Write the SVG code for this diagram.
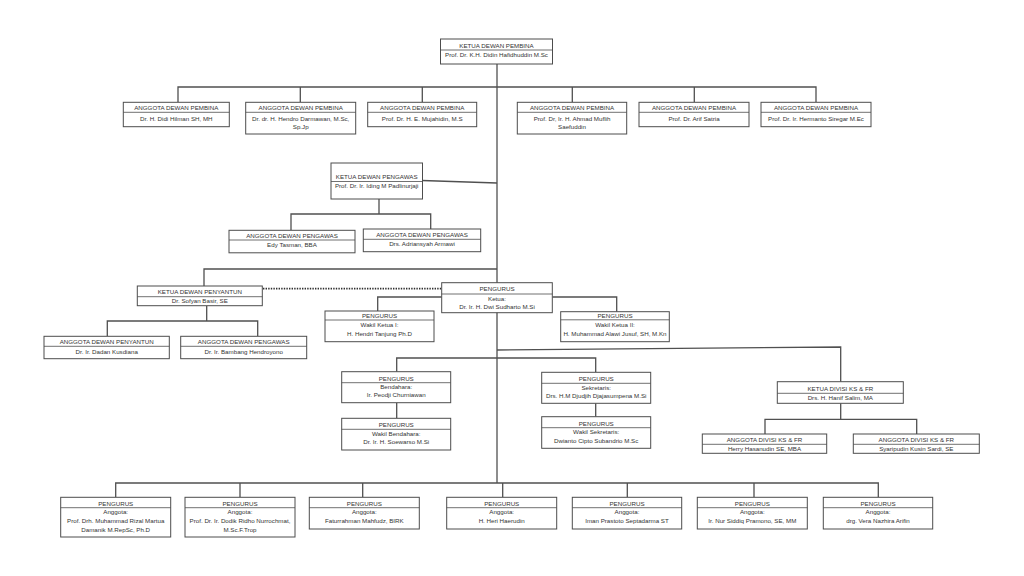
<svg xmlns="http://www.w3.org/2000/svg" width="1024" height="576" viewBox="0 0 1024 576">
<style>
.bg{fill:#ffffff}
.box{fill:#ffffff;stroke:#4d4d4d;stroke-width:1}
.dv{stroke:#4d4d4d;stroke-width:0.8}
.ln{fill:none;stroke:#505050;stroke-width:1.3}
.dot{fill:none;stroke:#303030;stroke-width:1.8;stroke-dasharray:1.4 1.2}
text{font-family:"Liberation Sans",Arial,sans-serif;font-size:6.2px;fill:#333333;text-anchor:middle}
</style>
<rect class="bg" x="0" y="0" width="1024" height="576"/>
<g id="connectors">
<path class="ln" d="M497,64 V483"/>
<path class="ln" d="M178,102 V87 H816 V102 M300.3,87 V102 M422.3,87 V102 M572.3,87 V102 M694.3,87 V102"/>
<path class="ln" d="M422,180.5 L497,183"/>
<path class="ln" d="M379,199 V214 M291,230 V214 H430.7 V229"/>
<path class="ln" d="M497,269 H204 V286"/>
<path class="dot" d="M263,288.7 H441"/>
<path class="ln" d="M206.7,306 V321 M107.3,336 V321 H257.7 V336"/>
<path class="ln" d="M441.7,297 H377.7 V311 M552.3,297 H616.7 V311.7"/>
<path class="ln" d="M497,350 L840.7,347 V381.7"/>
<path class="ln" d="M396.7,371.7 V358 H595.7 V372.3"/>
<path class="ln" d="M396.7,402.7 V418.3 M595.7,403.3 V416.7"/>
<path class="ln" d="M840.7,403.3 V419.3 M765,434 V419.3 H916.7 V434"/>
<path class="ln" d="M115.7,497.3 V483 H878.3 V497.3 M240,483 V497.3 M362.7,483 V497.3 M502.7,483 V497.3 M627.3,483 V497.3 M754,483 V497.3"/>
</g>

<g id="ketua-pembina">
<rect class="box" x="440.5" y="39" width="112" height="25"/>
<line class="dv" x1="440.5" y1="50" x2="552.5" y2="50"/>
<text x="496.5" y="47.8">KETUA DEWAN PEMBINA</text>
<text x="496.5" y="57">Prof. Dr. K.H. Didin Hafidhuddin M.Sc</text>
</g>

<g id="pembina-1">
<rect class="box" x="123.3" y="102.3" width="106" height="24.4"/>
<line class="dv" x1="123.3" y1="112.3" x2="229.3" y2="112.3"/>
<text x="176.3" y="110.2">ANGGOTA DEWAN PEMBINA</text>
<text x="176.3" y="120.5">Dr. H. Didi Hilman SH, MH</text>
</g>
<g id="pembina-2">
<rect class="box" x="245.7" y="102.3" width="110" height="31.7"/>
<line class="dv" x1="245.7" y1="112.3" x2="355.7" y2="112.3"/>
<text x="300.7" y="110.2">ANGGOTA DEWAN PEMBINA</text>
<text x="300.7" y="120.5">Dr. dr. H. Hendro Darmawan, M.Sc,</text>
<text x="300.7" y="129">Sp.Jp</text>
</g>
<g id="pembina-3">
<rect class="box" x="367.7" y="102.3" width="109" height="24.4"/>
<line class="dv" x1="367.7" y1="112.3" x2="476.7" y2="112.3"/>
<text x="422.2" y="110.2">ANGGOTA DEWAN PEMBINA</text>
<text x="422.2" y="120.5">Prof. Dr. H. E. Mujahidin, M.S</text>
</g>
<g id="pembina-4">
<rect class="box" x="517.3" y="102.3" width="109.4" height="31.7"/>
<line class="dv" x1="517.3" y1="112.3" x2="626.7" y2="112.3"/>
<text x="572" y="110.2">ANGGOTA DEWAN PEMBINA</text>
<text x="572" y="120.5">Prof. Dr, Ir. H. Ahmad Muflih</text>
<text x="572" y="129">Saefuddin</text>
</g>
<g id="pembina-5">
<rect class="box" x="639" y="102.3" width="110" height="24.4"/>
<line class="dv" x1="639" y1="112.3" x2="749" y2="112.3"/>
<text x="694" y="110.2">ANGGOTA DEWAN PEMBINA</text>
<text x="694" y="120.5">Prof. Dr. Arif Satria</text>
</g>
<g id="pembina-6">
<rect class="box" x="761" y="102.3" width="110" height="24.4"/>
<line class="dv" x1="761" y1="112.3" x2="871" y2="112.3"/>
<text x="816" y="110.2">ANGGOTA DEWAN PEMBINA</text>
<text x="816" y="120.5">Prof. Dr. Ir. Hermanto Siregar M.Ec</text>
</g>

<g id="ketua-pengawas">
<rect class="box" x="331" y="163" width="91.5" height="36"/>
<line class="dv" x1="331" y1="181.5" x2="422.5" y2="181.5"/>
<text x="376.7" y="179">KETUA DEWAN PENGAWAS</text>
<text x="376.7" y="188">Prof. Dr. Ir. Iding M Padlinurjaji</text>
</g>
<g id="pengawas-1">
<rect class="box" x="229" y="230.3" width="126" height="22.5"/>
<line class="dv" x1="229" y1="240" x2="355" y2="240"/>
<text x="292" y="238">ANGGOTA DEWAN PENGAWAS</text>
<text x="292" y="247.3">Edy Tasman, BBA</text>
</g>
<g id="pengawas-2">
<rect class="box" x="363.3" y="229" width="117.4" height="22.7"/>
<line class="dv" x1="363.3" y1="239.3" x2="480.7" y2="239.3"/>
<text x="422" y="237">ANGGOTA DEWAN PENGAWAS</text>
<text x="422" y="246.3">Drs. Adriansyah Armawi</text>
</g>

<g id="ketua-penyantun">
<rect class="box" x="137.3" y="286" width="125" height="19.7"/>
<line class="dv" x1="137.3" y1="296.7" x2="262.3" y2="296.7"/>
<text x="199.8" y="294">KETUA DEWAN PENYANTUN</text>
<text x="199.8" y="302.6">Dr. Sofyan Basir, SE</text>
</g>
<g id="penyantun-1">
<rect class="box" x="44" y="336.3" width="125.3" height="22.4"/>
<line class="dv" x1="44" y1="346.3" x2="169.3" y2="346.3"/>
<text x="106.7" y="344.2">ANGGOTA DEWAN PENYANTUN</text>
<text x="106.7" y="353.8">Dr. Ir. Dadan Kusdiana</text>
</g>
<g id="penyantun-2">
<rect class="box" x="180.7" y="336.3" width="126" height="22.4"/>
<line class="dv" x1="180.7" y1="346.3" x2="306.7" y2="346.3"/>
<text x="243.7" y="344.2">ANGGOTA DEWAN PENGAWAS</text>
<text x="243.7" y="353.8">Dr. Ir. Bambang Hendroyono</text>
</g>

<g id="pengurus-ketua">
<rect class="box" x="441.7" y="282.7" width="110.6" height="30"/>
<line class="dv" x1="441.7" y1="294" x2="552.3" y2="294"/>
<text x="497" y="291.3">PENGURUS</text>
<text x="497" y="301">Ketua:</text>
<text x="497" y="309">Dr. Ir. H. Dwi Sudharto M.Si</text>
</g>
<g id="wakil-ketua-1">
<rect class="box" x="325" y="311" width="109" height="30.7"/>
<line class="dv" x1="325" y1="320" x2="434" y2="320"/>
<text x="379.5" y="318">PENGURUS</text>
<text x="379.5" y="327">Wakil Ketua I:</text>
<text x="379.5" y="335.5">H. Hendri Tanjung Ph.D</text>
</g>
<g id="wakil-ketua-2">
<rect class="box" x="560.7" y="311.7" width="108.6" height="30"/>
<line class="dv" x1="560.7" y1="319.8" x2="669.3" y2="319.8"/>
<text x="615" y="318">PENGURUS</text>
<text x="615" y="327">Wakil Ketua II:</text>
<text x="615" y="335.5">H. Muhammad Alawi Jusuf, SH, M.Kn</text>
</g>

<g id="bendahara">
<rect class="box" x="341.7" y="371.7" width="109" height="31"/>
<line class="dv" x1="341.7" y1="382.7" x2="450.7" y2="382.7"/>
<text x="396.2" y="380.5">PENGURUS</text>
<text x="396.2" y="389">Bendahara:</text>
<text x="396.2" y="396.8">Ir. Peodji Churniawan</text>
</g>
<g id="wakil-bendahara">
<rect class="box" x="341.7" y="418.3" width="109" height="31.7"/>
<line class="dv" x1="341.7" y1="429.3" x2="450.7" y2="429.3"/>
<text x="396.2" y="427">PENGURUS</text>
<text x="396.2" y="435.5">Wakil Bendahara:</text>
<text x="396.2" y="444">Dr. Ir. H. Soewarso M.Si</text>
</g>
<g id="sekretaris">
<rect class="box" x="541.7" y="372.3" width="109" height="31"/>
<line class="dv" x1="541.7" y1="383.3" x2="650.7" y2="383.3"/>
<text x="596.2" y="381">PENGURUS</text>
<text x="596.2" y="389.5">Sekretaris:</text>
<text x="596.2" y="397.5">Drs. H.M Djudjih Djajasumpena M.Si</text>
</g>
<g id="wakil-sekretaris">
<rect class="box" x="541.7" y="416.7" width="109" height="31.6"/>
<line class="dv" x1="541.7" y1="427.7" x2="650.7" y2="427.7"/>
<text x="596.2" y="425.5">PENGURUS</text>
<text x="596.2" y="434">Wakil Sekretaris:</text>
<text x="596.2" y="442.5">Dwianto Cipto Subandrio M.Sc</text>
</g>

<g id="ketua-divisi">
<rect class="box" x="777.3" y="381.7" width="126" height="21.6"/>
<line class="dv" x1="777.3" y1="393.3" x2="903.3" y2="393.3"/>
<text x="840.3" y="390.8">KETUA DIVISI KS &amp; FR</text>
<text x="840.3" y="399.6">Drs. H. Hanif Salim, MA</text>
</g>
<g id="divisi-1">
<rect class="box" x="702.3" y="434" width="124.4" height="19.3"/>
<line class="dv" x1="702.3" y1="444.3" x2="826.7" y2="444.3"/>
<text x="764.5" y="442">ANGGOTA DIVISI KS &amp; FR</text>
<text x="764.5" y="451">Herry Hasanudin SE, MBA</text>
</g>
<g id="divisi-2">
<rect class="box" x="853.3" y="434" width="126" height="19.3"/>
<line class="dv" x1="853.3" y1="444.3" x2="979.3" y2="444.3"/>
<text x="916.3" y="442">ANGGOTA DIVISI KS &amp; FR</text>
<text x="916.3" y="451">Syaripudin Kusin Sardi, SE</text>
</g>

<g id="anggota-1">
<rect class="box" x="60.7" y="497.3" width="110" height="39.7"/>
<line class="dv" x1="60.7" y1="507.7" x2="170.7" y2="507.7"/>
<text x="115.7" y="505.6">PENGURUS</text>
<text x="115.7" y="514">Anggota:</text>
<text x="115.7" y="523">Prof. Drh. Muhammad Rizal Martua</text>
<text x="115.7" y="531.5">Damanik M.RepSc, Ph.D</text>
</g>
<g id="anggota-2">
<rect class="box" x="185" y="497.3" width="110" height="39.7"/>
<line class="dv" x1="185" y1="507.7" x2="295" y2="507.7"/>
<text x="240" y="505.6">PENGURUS</text>
<text x="240" y="514">Anggota:</text>
<text x="240" y="523">Prof. Dr. Ir. Dodik Ridho Nurrochmat,</text>
<text x="240" y="531.5">M.Sc.F.Trop</text>
</g>
<g id="anggota-3">
<rect class="box" x="309.3" y="497.3" width="110" height="31.7"/>
<line class="dv" x1="309.3" y1="507.7" x2="419.3" y2="507.7"/>
<text x="364.3" y="505.6">PENGURUS</text>
<text x="364.3" y="514.3">Anggota:</text>
<text x="364.3" y="523">Faturrahman Mahfudz, BIRK</text>
</g>
<g id="anggota-4">
<rect class="box" x="446.7" y="497.3" width="110" height="31.7"/>
<line class="dv" x1="446.7" y1="507.7" x2="556.7" y2="507.7"/>
<text x="501.7" y="505.6">PENGURUS</text>
<text x="501.7" y="514.3">Anggota:</text>
<text x="501.7" y="523">H. Heri Haerudin</text>
</g>
<g id="anggota-5">
<rect class="box" x="572.3" y="497.3" width="109.4" height="31.7"/>
<line class="dv" x1="572.3" y1="507.7" x2="681.7" y2="507.7"/>
<text x="627" y="505.6">PENGURUS</text>
<text x="627" y="514.3">Anggota:</text>
<text x="627" y="523">Iman Prastoto Septadarma ST</text>
</g>
<g id="anggota-6">
<rect class="box" x="697.3" y="497.3" width="110" height="31.7"/>
<line class="dv" x1="697.3" y1="507.7" x2="807.3" y2="507.7"/>
<text x="752.3" y="505.6">PENGURUS</text>
<text x="752.3" y="514.3">Anggota:</text>
<text x="752.3" y="523">Ir. Nur Siddiq Pramono, SE, MM</text>
</g>
<g id="anggota-7">
<rect class="box" x="823.3" y="497.3" width="109.4" height="31.7"/>
<line class="dv" x1="823.3" y1="507.7" x2="932.7" y2="507.7"/>
<text x="878" y="505.6">PENGURUS</text>
<text x="878" y="514.3">Anggota:</text>
<text x="878" y="523">drg. Vera Nazhira Arifin</text>
</g>
</svg>
